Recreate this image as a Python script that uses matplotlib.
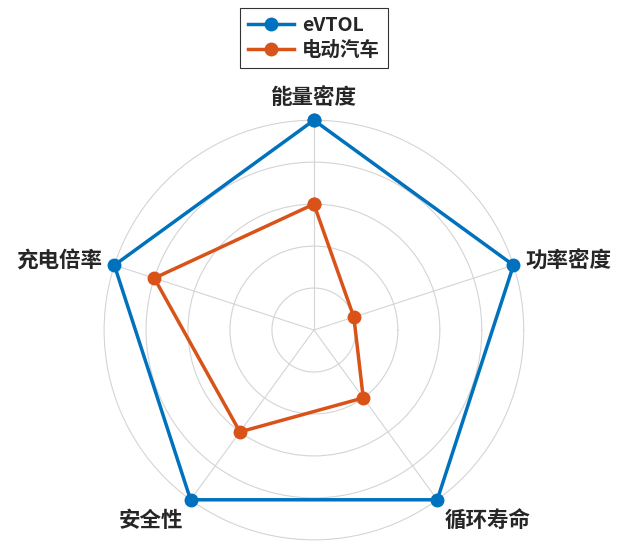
import numpy as np
import matplotlib
matplotlib.use("Agg")
import matplotlib.pyplot as plt

plt.rcParams['font.family'] = ['Noto Sans CJK SC', 'DejaVu Sans']

categories = ['能量密度', '功率密度', '循环寿命', '安全性', '充电倍率']
evtol = [1.0, 1.0, 1.0, 1.0, 1.0]
ev_car = [0.6, 0.2, 0.4, 0.6, 0.8]
series_names = ['eVTOL', '电动汽车']
colors = ['#0072BD', '#D95319']

n = len(categories)
# clockwise from the top
angles = np.mod(np.pi / 2 - np.arange(n) * 2 * np.pi / n, 2 * np.pi)

fig = plt.figure(figsize=(6.4, 5.53), dpi=100)
ax = fig.add_axes([0.161, 0.0217, 0.659, 0.763], projection='polar')

for vals, name, c in zip([evtol, ev_car], series_names, colors):
    th = np.append(angles, angles[0])
    r = np.append(vals, vals[0])
    ax.plot(th, r, '-o', color=c, lw=2.5, markersize=9, label=name,
            clip_on=False, zorder=3)

ax.set_xlim(0, 2 * np.pi)
ax.set_ylim(0, 1.005)
ax.set_yticks([0.2, 0.4, 0.6, 0.8, 1.0])
ax.set_yticklabels([])
ax.set_xticks(angles)
ax.set_xticklabels([])
ax.grid(True, color='#d4d4d4', lw=0.8)
ax.spines['polar'].set_visible(False)

for a, lab in zip(angles, categories):
    x = np.cos(a)
    y = np.sin(a)
    if abs(x) < 0.1:
        ha = 'center'
    elif x > 0:
        ha = 'left'
    else:
        ha = 'right'
    if y > 0.9:
        va = 'bottom'
    elif y < -0.5:
        va = 'top'
    else:
        va = 'center'
    ax.text(a, 1.06, lab, ha=ha, va=va, fontsize=15.5, fontweight='bold',
            color='#262626')

leg = fig.legend(loc='upper center', bbox_to_anchor=(314 / 640, 1 - 8 / 553),
                 fontsize=14, frameon=True, fancybox=False, handlelength=2.4,
                 borderpad=0.4, labelspacing=0.3, handletextpad=0.4,
                 borderaxespad=0)
leg.get_frame().set_edgecolor('black')
leg.get_frame().set_linewidth(0.8)
for t in leg.get_texts():
    t.set_fontweight('bold')
    t.set_color('#262626')

fig.savefig('out.png', dpi=100)
